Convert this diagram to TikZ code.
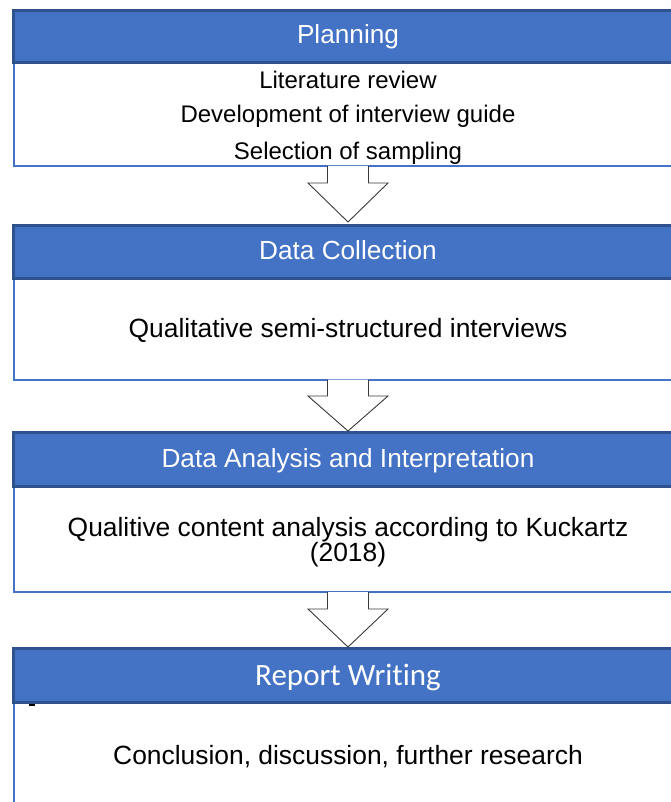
\documentclass[tikz,border=0pt]{standalone}
\usepackage{fontspec}
\setmainfont{Liberation Sans}
\newfontfamily\calibrifont[RawFeature=-liga]{Carlito}
\usetikzlibrary{calc}
\definecolor{hdfill}{HTML}{4472C4}
\definecolor{hdline}{HTML}{2F528F}
\definecolor{arrowline}{HTML}{3A3A3A}
\newcommand\flowarrow[4]{%
  \filldraw[blockarrow] ($(#1.south)+(-20.5,0)$) -- ++(0,#3) -- ++(-19.5,0)
    -- ($(#2.north)+(0,-#4)$) -- ($(#1.south)+(40,#3)$) -- ++(-19.5,0)
    -- ($(#1.south)+(20.5,0)$);}
\begin{document}
\begin{tikzpicture}[x=1pt,y=-1pt,
  hdr/.style={draw=hdline, line width=3pt, fill=hdfill, rectangle, inner sep=0pt, outer sep=0pt, anchor=north west, minimum width=669pt},
  bodybox/.style={draw=hdfill, line width=2pt, fill=white, rectangle, inner sep=0pt, outer sep=0pt, anchor=north west, minimum width=669pt},
  htext/.style={text=white, font=\fontsize{26.2}{30}\selectfont, anchor=base, inner sep=0pt},
  btext/.style={text=black, font=\fontsize{26.4}{30}\selectfont, anchor=base, inner sep=0pt},
  blockarrow/.style={draw=arrowline, line width=0.9pt, fill=white, line join=miter}]
\useasboundingbox (0,0) rectangle (671,802);
\clip (0,0) rectangle (671,802);
% stage 1
\node[bodybox, minimum height=103pt] (b1) at (13.5,63) {};
\node[hdr, minimum height=52.5pt] (h1) at (13.5,10.5) {};
\node[htext] (t1) at (348,44) {Planning};
\node[btext, font=\fontsize{24}{28}\selectfont] (l1a) at (348,88.5) {Literature review};
\node[btext, font=\fontsize{24}{28}\selectfont] (l1b) at (348,122.5) {Development of interview guide};
\node[btext, font=\fontsize{24}{28}\selectfont] (l1c) at (348,159.5) {Selection of sampling};
% stage 2
\node[bodybox, minimum height=101.5pt] (b2) at (13.5,278) {};
\node[hdr, minimum height=52.5pt] (h2) at (13.5,225.5) {};
\node[htext] (t2) at (348,259) {Data Collection};
\node[btext] (l2) at (348,337.5) {Qualitative semi-structured interviews};
% stage 3
\node[bodybox, minimum height=106pt] (b3) at (13.5,486) {};
\node[hdr, minimum height=53.5pt] (h3) at (13.5,432.5) {};
\node[htext] (t3) at (348,467) {Data Analysis and Interpretation};
\node[btext] (l3a) at (348,536.5) {Qualitive content analysis according to Kuckartz};
\node[btext] (l3b) at (348,561.5) {(2018)};
% stage 4
\node[bodybox, minimum height=128pt] (b4) at (13.5,702) {};
\node[hdr, minimum height=53.5pt] (h4) at (13.5,648.5) {};
\node[htext, font=\calibrifont\fontsize{31}{36}\selectfont] (t4) at (348,685) {Report Writing};
\node[btext] (l4) at (348,764.5) {Conclusion, discussion, further research};
\fill[black] (29,703.5) rectangle (35,705.5);
% arrows
\flowarrow{b1}{h2}{17}{3.5}
\flowarrow{b2}{h3}{16.5}{1.5}
\flowarrow{b3}{h4}{17}{1.5}
\end{tikzpicture}
\end{document}
